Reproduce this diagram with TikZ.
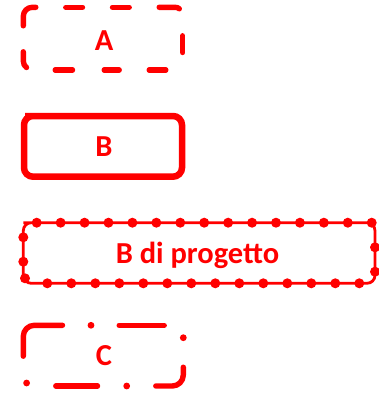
\documentclass[tikz,border=0pt]{standalone}
\usepackage{fontspec}
\setmainfont{Carlito}
\definecolor{boxred}{RGB}{255,0,0}
\tikzset{
  lbl/.style={text=boxred, font=\bfseries\fontsize{30.5}{36}\selectfont, inner sep=0pt, outer sep=0pt, anchor=base},
  seg/.style={draw=boxred, line width=5.4pt, line cap=round, line join=round},
  solidborder/.style={draw=boxred, line width=6.5pt, rounded corners=9pt},
  dotline/.style={draw=boxred, line width=2.8pt, rounded corners=8pt},
  bigdot/.style={fill=boxred, radius=5pt},
  smalldot/.style={fill=boxred, radius=3.4pt},
}
\begin{document}
\begin{tikzpicture}[x=1pt,y=-1pt]
\useasboundingbox (0,0) rectangle (378,394);
% ---------- A (dashed) ----------
\draw[seg, rounded corners=9pt] (23.3,25.8) -- (23.3,7.3) -- (35.8,7.3);
\draw[seg] (65.8,7.3) -- (82.5,7.3);
\draw[seg] (112.5,7.3) -- (129.2,7.3);
\draw[seg] (159.2,7.3) -- (175,7.3) .. controls (177,7.3) and (178.3,7.9) .. (179.3,8.8);
\draw[seg] (182.7,35.8) -- (182.7,52.5);
\draw[seg] (165.8,70) -- (149.2,70);
\draw[seg] (119.2,70) -- (104.2,70);
\draw[seg] (72.5,70) -- (55.2,70);
\draw[seg] (23.3,51.8) -- (23.3,61) .. controls (23.3,64) and (24.5,66) .. (26.5,67.5);
\node[lbl] (a) at (104,50) {A};
% ---------- B (solid) ----------
\draw[solidborder] (34,116) -- (182,116) -- (182,176.7) -- (24,176.7) -- (24,116) -- cycle;
\node[lbl] (b) at (104,156) {B};
% ---------- B di progetto (dotted) ----------
\draw[dotline] (31.3,222.7) -- (375,222.7) -- (375,283.3) -- (23.3,283.3) -- (23.3,222.7) -- cycle;
\foreach \k in {0,...,14} {\fill[bigdot] ({36.7+23.93*\k},222.7) circle;}
\foreach \k in {0,...,13} {\fill[bigdot] ({359.3-24*\k},283.3) circle;}
\fill[bigdot] (375,247.3) circle;
\fill[bigdot] (375,271.7) circle;
\fill[bigdot] (23.3,237.3) circle;
\fill[bigdot] (23.3,261.7) circle;
\fill[bigdot] (25,278.3) circle;
\node[lbl] (bp) at (197.5,263.3) {B di progetto};
% ---------- C (dash-dot) ----------
\draw[seg, rounded corners=11pt] (23.3,356.2) -- (23.3,325.3) -- (62.5,325.3);
\fill[smalldot] (91,325.3) circle;
\draw[seg] (119.2,325.3) -- (164.2,325.3);
\fill[smalldot] (183.3,337.7) circle;
\draw[seg, rounded corners=11pt] (183.3,367.2) -- (183.3,386) -- (155.8,386);
\fill[smalldot] (126.7,386) circle;
\draw[seg] (97.5,386) -- (55.8,386);
\fill[smalldot] (26.6,383) circle;
\node[lbl] (c) at (104,365) {C};
\end{tikzpicture}
\end{document}
